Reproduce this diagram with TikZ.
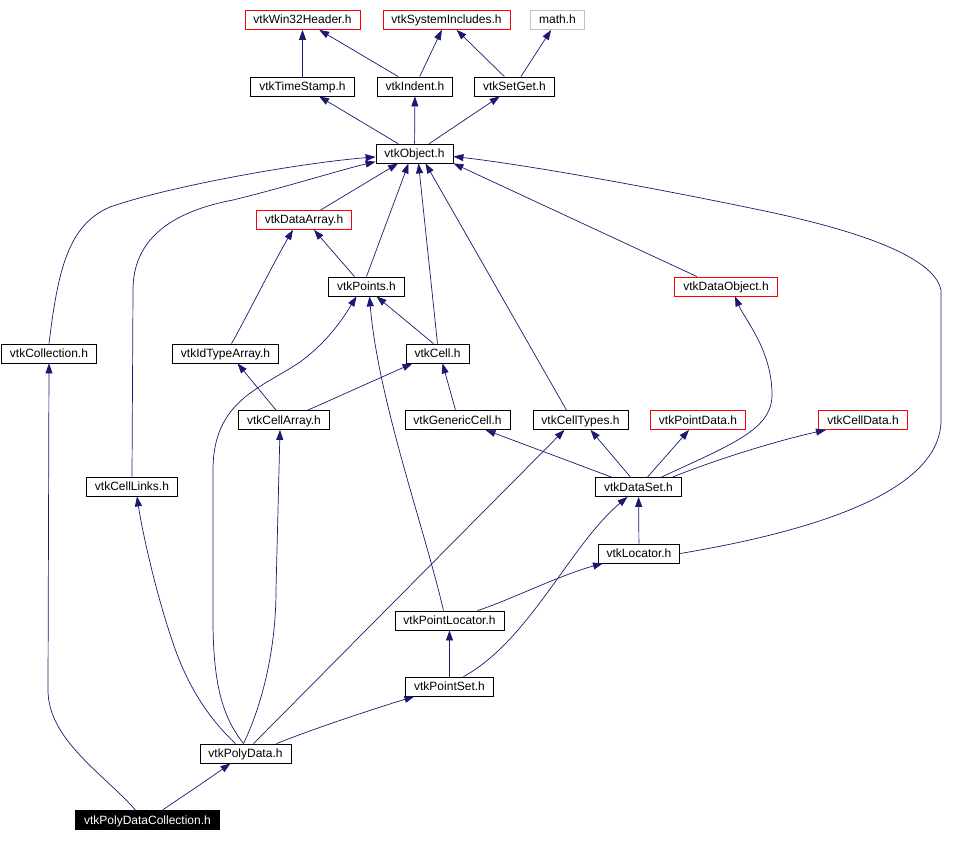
\documentclass[tikz,border=0pt]{standalone}
\usepackage{fontspec}
\setmainfont{Liberation Sans}
\usetikzlibrary{arrows.meta}

\definecolor{edgeblue}{HTML}{191970}
\definecolor{boxred}{HTML}{FF0000}
\definecolor{boxgray}{HTML}{C0C0C0}

\begin{document}
\begin{tikzpicture}[x=1pt, y=-1pt, >={Triangle[length=10pt,width=7pt]},
  hdr/.style={draw=black, line width=0.8pt, fill=white, inner xsep=8.5pt, inner ysep=0pt,
    text height=13.5pt, text depth=5.5pt, font=\fontsize{12}{13}\selectfont},
  ext/.style={hdr, draw=boxred},
  sys/.style={hdr, draw=boxgray},
  this/.style={hdr, fill=black, text=white},
  dep/.style={->, draw=edgeblue, line width=0.7pt}]
  \useasboundingbox (0,0) rectangle (960,842);

  % headers, placed at the pixel centres of the graph
  \node[ext] (win32) at (302.5,20) {vtkWin32Header.h};
  \node[ext] (sysinc) at (446.5,20) {vtkSystemIncludes.h};
  \node[sys] (mathh) at (557.5,20) {math.h};
  \node[hdr] (tstamp) at (302.5,86.5) {vtkTimeStamp.h};
  \node[hdr] (indent) at (415,86.5) {vtkIndent.h};
  \node[hdr] (setget) at (514.5,86.5) {vtkSetGet.h};
  \node[hdr] (object) at (414.5,153.5) {vtkObject.h};
  \node[ext] (darray) at (304,220) {vtkDataArray.h};
  \node[hdr] (points) at (366.5,286.5) {vtkPoints.h};
  \node[ext] (dobject) at (726,286.5) {vtkDataObject.h};
  \node[hdr] (collect) at (49,353.5) {vtkCollection.h};
  \node[hdr] (idarray) at (225.5,353.5) {vtkIdTypeArray.h};
  \node[hdr] (cell) at (437.5,353.5) {vtkCell.h};
  \node[hdr] (carray) at (284,420) {vtkCellArray.h};
  \node[hdr] (gcell) at (457.5,420) {vtkGenericCell.h};
  \node[hdr] (ctypes) at (580.5,420) {vtkCellTypes.h};
  \node[ext] (pdata) at (698,420) {vtkPointData.h};
  \node[ext] (cdata) at (863,420) {vtkCellData.h};
  \node[hdr] (dset) at (638.5,487) {vtkDataSet.h};
  \node[hdr] (clinks) at (132,486.5) {vtkCellLinks.h};
  \node[hdr] (locator) at (639,553.5) {vtkLocator.h};
  \node[hdr] (plocator) at (449.5,620.5) {vtkPointLocator.h};
  \node[hdr] (pset) at (449.5,686.5) {vtkPointSet.h};
  \node[hdr] (polyd) at (245.5,753.5) {vtkPolyData.h};
  \node[this] (pdcoll) at (147.5,820) {vtkPolyDataCollection.h};

  % top rows
  \draw[dep] (tstamp) -- (win32);
  \draw[dep] (indent) -- (win32);
  \draw[dep] (indent) -- (sysinc);
  \draw[dep] (setget) -- (sysinc);
  \draw[dep] (setget) -- (mathh);
  \draw[dep] (object) -- (tstamp);
  \draw[dep] (object) -- (indent);
  \draw[dep] (object) -- (setget);

  % everything that includes vtkObject.h
  \draw[dep] (collect.north) .. controls (58,270) and (68,225) .. (110,207)
    .. controls (170,186) and (300,163) .. (object.185);
  \draw[dep] (clinks.north) -- (133,290) .. controls (133,240) and (170,212) .. (233,200)
    .. controls (290,186) and (340,170) .. (object.192);
  \draw[dep] (darray) -- (object);
  \draw[dep] (points.north) .. controls (380,240) and (395,200) .. ([xshift=-6pt]object.south);
  \draw[dep] (cell.north) -- ([xshift=4pt]object.south);
  \draw[dep] ([xshift=-14pt]ctypes.north) -- ([xshift=11pt]object.south);
  \draw[dep] ([xshift=-29pt]dobject.north) -- (object.south east);
  \draw[dep] (locator.east) .. controls (820,530) and (941,490) .. (941,420) -- (941,290)
    .. controls (935,262) and (880,235) .. (760,210)
    .. controls (640,185) and (520,164) .. ([yshift=-3pt]object.east);

  % middle
  \draw[dep] ([xshift=-12pt]points.north) -- ([xshift=10pt]darray.south);
  \draw[dep] ([xshift=6pt]idarray.north) .. controls (245,320) and (275,260) .. ([xshift=-11pt]darray.south);
  \draw[dep] ([xshift=-8pt]carray.north) -- ([xshift=12pt]idarray.south);
  \draw[dep] ([xshift=24pt]carray.north) -- ([xshift=-25pt]cell.south);
  \draw[dep] ([xshift=-4pt]cell.north) -- ([xshift=10pt]points.south);
  \draw[dep] ([xshift=-2pt]gcell.north) -- ([xshift=5pt]cell.south);

  % vtkDataSet.h
  \draw[dep] ([xshift=-27pt]dset.north) -- ([xshift=28pt]gcell.south);
  \draw[dep] ([xshift=-8pt]dset.north) -- ([xshift=10pt]ctypes.south);
  \draw[dep] ([xshift=9pt]dset.north) -- ([xshift=-9pt]pdata.south);
  \draw[dep] ([xshift=23pt]dset.north) .. controls (730,445) and (772,430) .. (772,395)
    .. controls (772,350) and (745,320) .. ([xshift=9pt]dobject.south);
  \draw[dep] ([xshift=34pt]dset.north) .. controls (720,458) and (780,440) .. ([xshift=-37pt]cdata.south);
  \draw[dep] (locator) -- (dset);

  % locators and point set
  \draw[dep] ([xshift=-6pt]plocator.north) .. controls (425,530) and (378,400) .. ([xshift=3pt]points.south);
  \draw[dep] ([xshift=28pt]plocator.north) .. controls (510,600) and (560,575) .. ([xshift=-36pt]locator.south);
  \draw[dep] (pset) -- (plocator);
  \draw[dep] ([xshift=14pt]pset.north) .. controls (530,640) and (570,545) .. ([xshift=-11pt]dset.south);

  % vtkPolyData.h
  \draw[dep] ([xshift=-2pt]polyd.north) .. controls (225,720) and (213,690) .. (213,620) -- (213,470)
    .. controls (213,400) and (262,388) .. (300,362)
    .. controls (330,340) and (345,315) .. ([xshift=-10pt]points.south);
  \draw[dep] ([xshift=-2pt]polyd.north) .. controls (262,705) and (276,650) .. (276,590)
    -- ([xshift=-4pt]carray.south);
  \draw[dep] ([xshift=-10pt]polyd.north) .. controls (205,715) and (185,680) .. (172,640)
    .. controls (155,590) and (142,530) .. ([xshift=5pt]clinks.south);
  \draw[dep] ([xshift=8pt]polyd.north) -- ([xshift=-16pt]ctypes.south);
  \draw[dep] ([xshift=31pt]polyd.north) .. controls (310,730) and (370,710) .. ([xshift=-35pt]pset.south);

  % vtkPolyDataCollection.h
  \draw[dep] ([xshift=15pt]pdcoll.north) .. controls (180,798) and (200,785) .. ([xshift=-15pt]polyd.south);
  \draw[dep] ([xshift=-12pt]pdcoll.north) .. controls (105,775) and (48,740) .. (48,690) -- (collect.south);
\end{tikzpicture}
\end{document}
